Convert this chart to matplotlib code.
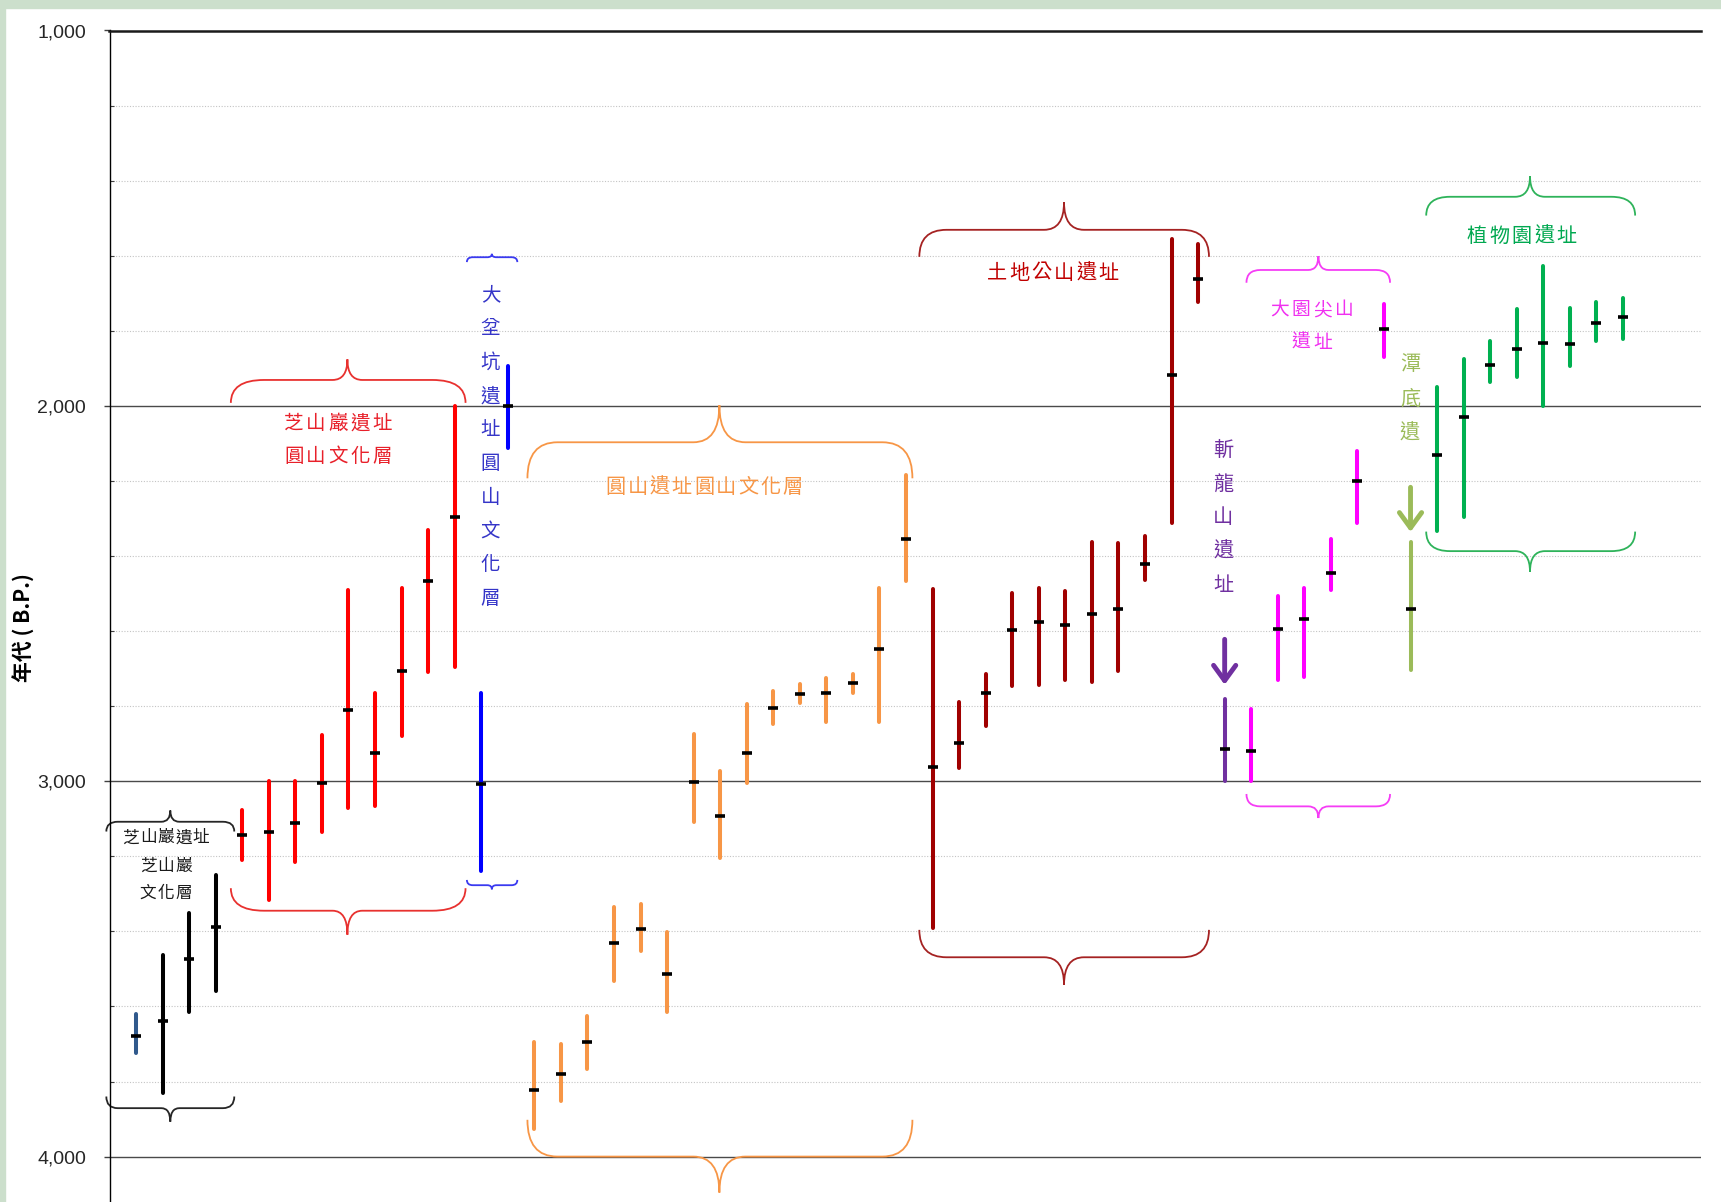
import numpy as np
import matplotlib
matplotlib.use('Agg')
import matplotlib.pyplot as plt
from matplotlib.path import Path
from matplotlib.patches import PathPatch, Rectangle
from matplotlib.ticker import MultipleLocator, FuncFormatter

plt.rcParams['font.family'] = ['Noto Sans CJK TC', 'DejaVu Sans']

# 14C dates in years B.P.: mean, younger bound, older bound, one entry per sample
site = (['ZSY0'] + ['ZSY'] * 3 + ['ZSY_YS'] * 9 + ['DBK'] * 2 + ['YS'] * 15
        + ['TDG'] * 11 + ['ZLS'] + ['DYJ'] * 6 + ['TD'] + ['ZWY'] * 8)
age_mid = [3678, 3638, 3474, 3389,
           3143, 3134, 3112, 3005, 2810, 2925, 2706, 2466, 2295,
           3008, 2000,
           3822, 3780, 3694, 3432, 3394, 3514, 3001, 3093, 2925, 2806, 2768, 2766, 2739, 2647, 2355,
           2961, 2898, 2764, 2598, 2577, 2584, 2555, 2542, 2421, 1918, 1663,
           2915,
           2920, 2595, 2568, 2444, 2200, 1796,
           2541,
           2131, 2029, 1892, 1848, 1832, 1836, 1778, 1762]
age_young = [3621, 3463, 3352, 3250,
             3076, 3000, 3000, 2877, 2490, 2766, 2486, 2332, 2000,
             2766, 1894,
             3696, 3700, 3625, 3334, 3327, 3401, 2875, 2974, 2794, 2759, 2741, 2726, 2715, 2486, 2184,
             2488, 2788, 2715, 2499, 2486, 2492, 2363, 2366, 2346, 1556, 1570,
             2782,
             2808, 2506, 2486, 2355, 2120, 1729,
             2364,
             1950, 1875, 1826, 1743, 1627, 1740, 1722, 1713]
age_old = [3725, 3831, 3614, 3558,
           3210, 3316, 3214, 3134, 3072, 3066, 2879, 2710, 2696,
           3238, 2113,
           3927, 3851, 3766, 3533, 3453, 3614, 3108, 3205, 3005, 2848, 2791, 2843, 2766, 2843, 2466,
           3390, 2964, 2853, 2745, 2743, 2730, 2736, 2706, 2464, 2311, 1722,
           3000,
           3000, 2730, 2722, 2490, 2313, 1871,
           2705,
           2333, 2295, 1936, 1922, 2000, 1894, 1827, 1822]

site_color = {'ZSY0': '#30598C', 'ZSY': '#000000', 'ZSY_YS': '#FF0000',
              'DBK': '#0000FF', 'YS': '#F79646', 'TDG': '#A00000',
              'ZLS': '#7030A0', 'DYJ': '#FF00FF', 'TD': '#9BBB59', 'ZWY': '#00B050'}

xpos = np.arange(len(site))

W, H = 1721, 1202
fig = plt.figure(figsize=(W / 100, H / 100), dpi=100)
fig.patches.append(Rectangle((0, 1 - 8 / H), 1, 8 / H, transform=fig.transFigure,
                             color='#CCDFCC', zorder=0))
fig.patches.append(Rectangle((0, 0), 5 / W, 1, transform=fig.transFigure,
                             color='#CCDFCC', zorder=0))

ax = fig.add_axes([109.5 / W, 0, (1701 - 109.5) / W, 1 - 30.5 / H])
ax.set_xlim(-1, 58.94)
ax.set_ylim(4121, 1000)

ax.yaxis.set_major_locator(MultipleLocator(1000))
ax.yaxis.set_minor_locator(MultipleLocator(200))
ax.yaxis.set_major_formatter(FuncFormatter(lambda v, p: f'{v:,.0f}'))
ax.set_xticks([])
ax.tick_params(axis='y', which='major', direction='out', length=4.5, width=1,
               color='#404040', pad=12.5, labelsize=14, labelcolor='#262626')
ax.tick_params(axis='y', which='minor', direction='in', length=3, width=0.8, color='#404040')
for lab in ax.get_yticklabels():
    lab.set_fontfamily('Liberation Sans')
ax.grid(which='major', axis='y', color='#4A4A4A', lw=1.0)
ax.grid(which='minor', axis='y', color='#C4C4C4', lw=0.8, ls=(0, (1, 1.5)))
ax.set_axisbelow(True)
for s in ('right', 'bottom'):
    ax.spines[s].set_visible(False)
ax.spines['top'].set_linewidth(1.8)
ax.spines['top'].set_color('#1A1A1A')
ax.spines['left'].set_linewidth(1.0)

fig.text(24 / W, 1 - 628 / H, '年代 ( B.P.)', rotation=90, ha='center', va='center',
         fontsize=15, fontweight='bold')

# date ranges and means
ax.vlines(xpos, age_young, age_old, colors=[site_color[s] for s in site],
          lw=2.9, capstyle='round', zorder=3)
ax.plot(xpos, age_mid, ls='none', marker='_', ms=6.5, mew=2.6, color='black', zorder=4)


def brace(x0, x1, xt, y_end, y_mid, y_tip, r, rt, color):
    verts = [(x0, y_end), (x0, y_mid), (x0 + r, y_mid),
             (xt - rt, y_mid), (xt, y_mid), (xt, y_tip),
             (xt, y_mid), (xt + rt, y_mid),
             (x1 - r, y_mid), (x1, y_mid), (x1, y_end)]
    codes = [Path.MOVETO, Path.CURVE3, Path.CURVE3, Path.LINETO, Path.CURVE3, Path.CURVE3,
             Path.CURVE3, Path.CURVE3, Path.LINETO, Path.CURVE3, Path.CURVE3]
    ax.add_patch(PathPatch(Path(verts, codes), fc='none', ec=color, lw=1.3,
                           clip_on=False, zorder=2))


braces = [
    (-1.12, 3.70, 1.29, 3134, 3108, 3078, 0.43, 0.34, '#262626'),
    (-1.12, 3.70, 1.29, 3840, 3871, 3907, 0.43, 0.34, '#262626'),
    (3.57, 12.41, 7.96, 1992, 1931, 1876, 1.25, 0.56, '#E8312F'),
    (3.57, 12.41, 7.96, 3285, 3345, 3409, 1.25, 0.56, '#E8312F'),
    (12.46, 14.36, 13.40, 1617, 1604, 1595, 0.22, 0.17, '#3A3AF0'),
    (12.46, 14.36, 13.40, 3263, 3277, 3288, 0.22, 0.17, '#3A3AF0'),
    (14.74, 29.24, 21.97, 2193, 2097, 1998, 1.13, 0.98, '#F79646'),
    (14.74, 29.24, 21.97, 3902, 4000, 4096, 1.13, 0.98, '#F79646'),
    (29.50, 40.41, 34.95, 1603, 1531, 1458, 1.02, 0.75, '#A52222'),
    (29.50, 40.41, 34.95, 3396, 3469, 3542, 1.02, 0.75, '#A52222'),
    (41.82, 47.23, 44.53, 1672, 1638, 1601, 0.53, 0.38, '#F53DF5'),
    (41.82, 47.23, 44.53, 3034, 3067, 3098, 0.53, 0.38, '#F53DF5'),
    (48.59, 56.46, 52.50, 1493, 1443, 1388, 0.90, 0.56, '#2EB35A'),
    (48.59, 56.46, 52.50, 2335, 2387, 2442, 0.90, 0.56, '#2EB35A'),
]
for b in braces:
    brace(*b)

# site names, set one character at a time so the pitch can be controlled
labels = [
    ('芝山巖遺址', 1.12, 3151, 0.663, 12, '#1A1A1A'),
    ('芝山巖', 1.12, 3226, 0.663, 12, '#1A1A1A'),
    ('文化層', 1.12, 3298, 0.663, 12, '#1A1A1A'),
    ('芝山巖遺址', 7.60, 2046, 0.829, 14, '#E8202A'),
    ('圓山文化層', 7.60, 2135, 0.829, 14, '#E8202A'),
    ('圓山遺址圓山文化層', 21.39, 2217, 0.836, 14.5, '#F79646'),
    ('土地公山遺址', 34.53, 1647, 0.836, 14.5, '#C00000'),
    ('大園尖山', 44.28, 1744, 0.817, 13.5, '#F030F0'),
    ('遺址', 44.28, 1831, 0.817, 13.5, '#F030F0'),
    ('植物園遺址', 52.19, 1549, 0.847, 14.5, '#00A850'),
]
for txt, xc, y, pitch, size, color in labels:
    for j, ch in enumerate(txt):
        ax.text(xc + (j - (len(txt) - 1) / 2) * pitch, y, ch, ha='center', va='center',
                fontsize=size, color=color, zorder=5)

vertical_labels = [
    ('大坌坑遺址圓山文化層', 13.35, 1705, 89.8, 14, '#3535C8'),
    ('斬龍山遺址', 40.95, 2118, 89.9, 14.5, '#7030A0'),
    ('潭底遺', 47.98, 1891, 91, 14.5, '#9BBB59'),
]
for txt, x, y0, step, size, color in vertical_labels:
    for j, ch in enumerate(txt):
        ax.text(x, y0 + j * step, ch, ha='center', va='center', fontsize=size,
                color=color, zorder=5)

# arrows pointing at the 斬龍山 and 潭底 dates
arrows = [(xpos[site.index('ZLS')], 2622, 2743, '#7030A0'),
          (xpos[site.index('TD')], 2217, 2336, '#9BBB59')]
for x, y_from, y_to, color in arrows:
    ax.annotate('', xy=(x, y_to), xytext=(x, y_from),
                arrowprops=dict(arrowstyle='->, head_length=0.55, head_width=0.4',
                                lw=3.5, color=color, shrinkA=0, shrinkB=0,
                                mutation_scale=20))

fig.savefig('out.png', dpi=100)
